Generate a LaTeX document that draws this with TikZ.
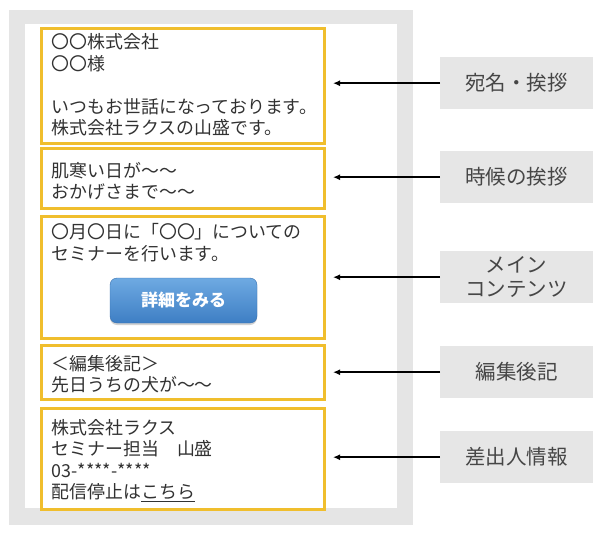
\documentclass[tikz,border=0pt]{standalone}
\usepackage{fontspec}
\setmainfont{Noto Sans CJK JP}
\usetikzlibrary{shadows,arrows.meta}
\definecolor{framegray}{RGB}{229,229,229}
\definecolor{labelgray}{RGB}{230,230,230}
\definecolor{ybox}{RGB}{240,190,45}
\definecolor{txt}{RGB}{50,50,50}
\definecolor{ltxt}{RGB}{70,70,70}
\definecolor{btop}{RGB}{110,170,226}
\definecolor{bbot}{RGB}{62,126,196}
\tikzset{
  ysec/.style={draw=ybox, line width=3pt, minimum width=283pt, anchor=north west, inner sep=0pt},
  btxt/.style={anchor=base west, align=left, inner sep=0pt, text=txt, font=\fontsize{17.9}{21.5}\selectfont},
  lab/.style={fill=labelgray, minimum width=153pt, minimum height=52pt, anchor=north west, text=ltxt, align=center, font=\fontsize{20.5}{24}\selectfont, inner sep=0pt},
  arr/.style={-{Latex[length=7pt,width=6pt]}, line width=1.6pt, black}
}
\begin{document}
\begin{tikzpicture}[x=1pt,y=-1pt]
\useasboundingbox (0,0) rectangle (602,535);
\fill[framegray] (9,10) rectangle (413,525);
\fill[white] (25,24) rectangle (397,508);
% sections
\node[ysec, minimum height=115pt] (b1) at (40,27) {};
\node[ysec, minimum height=60pt] (b2) at (40,147) {};
\node[ysec, minimum height=122pt] (b3) at (40,215) {};
\node[ysec, minimum height=54pt] (b4) at (40,344) {};
\node[ysec, minimum height=101pt] (b5) at (40,407) {};
% texts (anchored at the baseline of the last line)
\node[btxt] (t1) at (51.5,134.5) {〇〇株式会社\\〇〇様\\[21.5pt]いつもお世話になっております。\\株式会社ラクスの山盛です。};
\node[btxt] (t2) at (51.5,198.5) {肌寒い日が～～\\おかげさまで～～};
\node[btxt] (t3) at (51.5,260) {〇月〇日に「〇〇」についての\\セミナーを行います。};
\node[btxt] (t4) at (51.5,391.5) {＜編集後記＞\\先日うちの犬が～～};
\node[btxt] (t5) at (51.5,498.5) {株式会社ラクス\\セミナー担当　山盛\\03-****-****\\配信停止は\underline{こちら}};
% button
\node[rounded corners=7pt, top color=btop, bottom color=bbot, draw=bbot!90!black, line width=0.4pt,
      drop shadow={shadow xshift=0pt, shadow yshift=-2pt, opacity=0.35},
      minimum width=147pt, minimum height=45pt, text=white, font=\fontsize{17}{20}\selectfont\bfseries]
      (btn) at (183.5,300.5) {詳細をみる};
% labels
\node[lab] (l1) at (440,57) {宛名・挨拶};
\node[lab] (l2) at (440,151) {時候の挨拶};
\node[lab] (l3) at (440,251) {メイン\\コンテンツ};
\node[lab] (l4) at (440,346) {編集後記};
\node[lab] (l5) at (440,431) {差出人情報};
% arrows
\foreach \i in {1,...,5}{
  \draw[arr] (l\i.west) -- ([xshift=7pt]b\i.east |- l\i.west);
}
\end{tikzpicture}
\end{document}
